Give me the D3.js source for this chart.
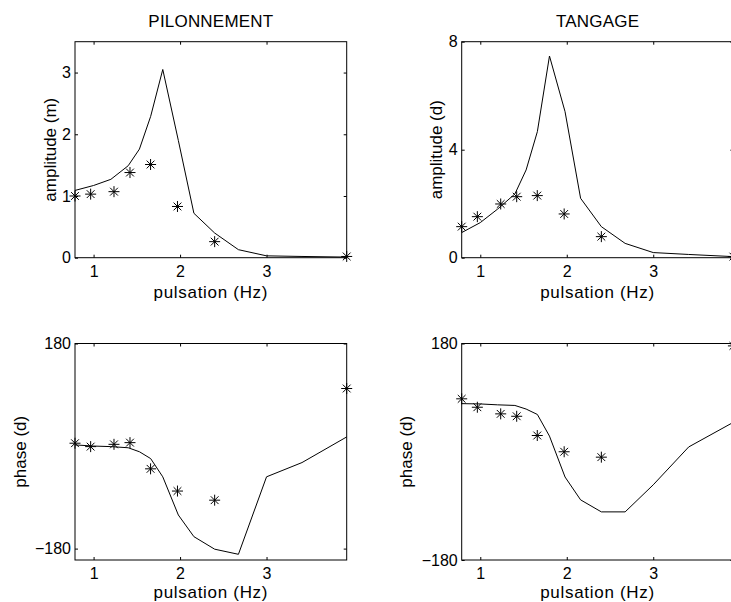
<!DOCTYPE html>
<html>
<head>
<meta charset="utf-8">
<script src="https://cdn.jsdelivr.net/npm/d3@7"></script>
<style>
  html, body { margin: 0; padding: 0; background: #fff; }
  svg { display: block; }
  text { font-family: "Liberation Sans", Arial, Helvetica, sans-serif; fill: #000; }
</style>
</head>
<body>
<svg id="chart" width="731" height="602"></svg>
<script>
// Pulsations of the measured points (Hz)
const measFreq = [0.785, 0.966, 1.236, 1.421, 1.659, 1.97, 2.40, 3.927];
// Measured responses
const measHeaveAmp   = [1.00, 1.03, 1.07, 1.38, 1.51, 0.83, 0.26, 0.02];
const measPitchAmp   = [1.15, 1.52, 1.99, 2.26, 2.30, 1.62, 0.78, 0.04];
const measHeavePhase = [5, -1, 3, 6, -40, -79, -95, 101];
const measPitchPhase = [88, 74, 63, 59, 27, 0, -9, 176];

// Pulsations of the computed curves (Hz)
const modelFreq = [0.785, 1.0, 1.2, 1.4, 1.53, 1.66, 1.80, 1.98, 2.16, 2.40, 2.675, 3.0, 3.41, 3.927];
// Computed responses
const modelHeaveAmp   = [1.09, 1.17, 1.27, 1.49, 1.76, 2.29, 3.05, 1.90, 0.72, 0.40, 0.13, 0.03, 0.02, 0.01];
const modelPitchAmp   = [0.93, 1.30, 1.80, 2.36, 3.25, 4.67, 7.47, 5.41, 2.20, 1.15, 0.53, 0.19, 0.12, 0.04];
const modelHeavePhase = [2, 0, -1, -3, -10, -22, -54, -121, -159, -181, -190, -54, -29, 16];
const modelPitchPhase = [80, 79.5, 78, 77, 71, 62, 26, -42, -80, -100, -100, -55, 8, 49];

// Axis settings
const xTicks = [1, 2, 3];
const heaveAmpTicks = [0, 1, 2, 3];
const pitchAmpTicks = [0, 4, 8];
const phaseTicks = [-180, 180];

const titles = ["PILONNEMENT", "TANGAGE"];
const xLabel = "pulsation (Hz)";

const svg = d3.select("#chart");
const axW = 271.7;
const colLeft = [75, 461.7];
const rowTop = [41.7, 343.5];
const rowH = [216, 216.5];
const xLabelOffset = [40, 37.5];

const panels = [
  { col: 0, row: 0, model: modelHeaveAmp,   meas: measHeaveAmp,   yDomain: [0, 3.5],     yTicks: heaveAmpTicks, yLabel: "amplitude (m)", yLabelX: 56,  title: titles[0] },
  { col: 1, row: 0, model: modelPitchAmp,   meas: measPitchAmp,   yDomain: [0, 8],       yTicks: pitchAmpTicks, yLabel: "amplitude (d)", yLabelX: 442, title: titles[1] },
  { col: 0, row: 1, model: modelHeavePhase, meas: measHeavePhase, yDomain: [-200, 180], yTicks: phaseTicks,    yLabel: "phase (d)",     yLabelX: 25.5 },
  { col: 1, row: 1, model: modelPitchPhase, meas: measPitchPhase, yDomain: [-180, 180], yTicks: phaseTicks,    yLabel: "phase (d)",     yLabelX: 412 }
];

const fmt = d3.format("d");
const tickLen = 3;

// Eight-armed asterisk marker
function star(g, cx, cy, r) {
  const d = r * Math.SQRT1_2;
  g.append("path")
    .attr("d", `M${cx - r},${cy}L${cx + r},${cy}M${cx},${cy - r}L${cx},${cy + r}` +
               `M${cx - d},${cy - d}L${cx + d},${cy + d}M${cx - d},${cy + d}L${cx + d},${cy - d}`)
    .attr("stroke", "#000").attr("stroke-width", 1).attr("fill", "none");
}

panels.forEach(p => {
  const left = colLeft[p.col], top = rowTop[p.row], h = rowH[p.row];
  const x = d3.scaleLinear().domain(d3.extent(modelFreq)).range([left, left + axW]);
  const y = d3.scaleLinear().domain(p.yDomain).range([top + h, top]);
  const g = svg.append("g");

  // Inward ticks on all four sides
  const axes = [
    { a: d3.axisBottom(x).tickValues(xTicks).tickFormat(fmt), t: `translate(0,${top + h})`, pad: 7.5 },
    { a: d3.axisTop(x).tickValues(xTicks).tickFormat(""),     t: `translate(0,${top})`,     pad: 4 },
    { a: d3.axisLeft(y).tickValues(p.yTicks).tickFormat(fmt), t: `translate(${left},0)`,    pad: 4 },
    { a: d3.axisRight(y).tickValues(p.yTicks).tickFormat(""), t: `translate(${left + axW},0)`, pad: 4 }
  ];
  axes.forEach(ax => {
    const ag = g.append("g").attr("transform", ax.t)
      .call(ax.a.tickSizeInner(-tickLen).tickSizeOuter(0).tickPadding(ax.pad));
    ag.select(".domain").remove();
    ag.selectAll("line").attr("stroke", "#000");
    ag.selectAll("text").attr("font-size", 16).attr("font-family", null).style("fill", "#000");
  });

  // Axes box
  g.append("rect").attr("x", left).attr("y", top).attr("width", axW).attr("height", h)
    .attr("fill", "none").attr("stroke", "#000").attr("stroke-width", 1);

  // Computed curve
  const line = d3.line().x((d, i) => x(modelFreq[i])).y(d => y(d));
  g.append("path").datum(p.model).attr("d", line)
    .attr("fill", "none").attr("stroke", "#000").attr("stroke-width", 1);

  // Measured points
  p.meas.forEach((v, i) => star(g, x(measFreq[i]), y(v), 5.5));

  // Labels
  g.append("text").attr("x", (left + left + axW) / 2).attr("y", top + h + xLabelOffset[p.row])
    .attr("text-anchor", "middle").attr("font-size", 17).attr("letter-spacing", 0.7).text(xLabel);
  g.append("text").attr("transform", `translate(${p.yLabelX},${top + h / 2}) rotate(-90)`)
    .attr("text-anchor", "middle").attr("font-size", 17).text(p.yLabel);
  if (p.title) {
    g.append("text").attr("x", (left + left + axW) / 2).attr("y", 26.7)
      .attr("text-anchor", "middle").attr("font-size", 17).attr("letter-spacing", 0.2).text(p.title);
  }
});
</script>
</body>
</html>
